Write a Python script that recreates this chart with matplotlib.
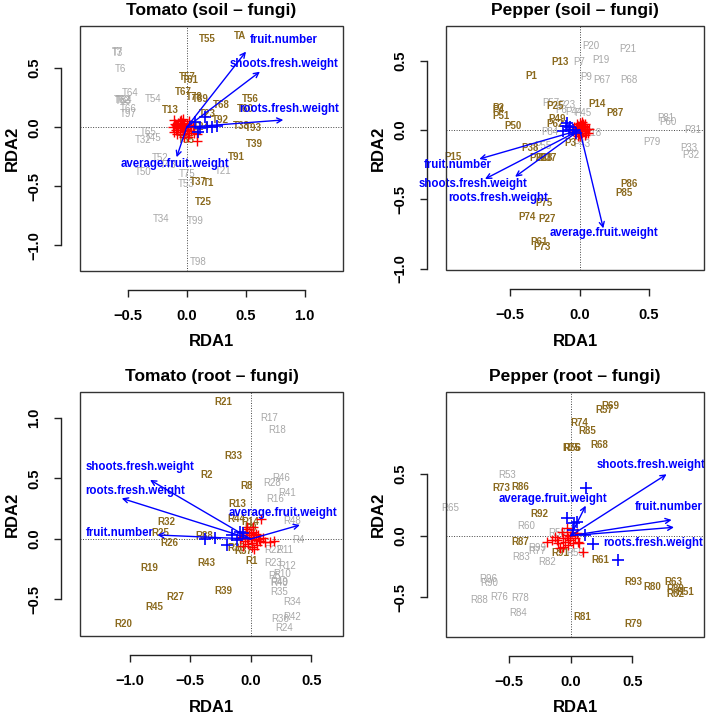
import matplotlib
matplotlib.use('Agg')
import matplotlib.pyplot as plt
from matplotlib.patches import Rectangle

plt.rcParams['font.family'] = ['Liberation Sans', 'DejaVu Sans']
plt.rcParams['axes.unicode_minus'] = True

W, H = 709, 716
BROWN = '#8B6A1E'
GREY = '#A8A8A8'
BLUE = '#0000FF'
RED = '#FF0000'

ARROW_NAMES = ['fruit.number', 'shoots.fresh.weight', 'roots.fresh.weight', 'average.fruit.weight']

# ---------------- Tomato (soil - fungi) ----------------
tl_title = 'Tomato (soil – fungi)'
tl_names = ['T55', 'TA', 'T57', 'T61', 'T67', 'T78', 'T89', 'T68', 'T56', 'T60', 'T13', 'T23', 'T92',
            'T38', 'T93', 'T24', 'T35', 'T39', 'T91', 'T37', 'T1', 'T25',
            'T3', 'T7', 'T6', 'T64', 'T62', 'T63', 'T84', 'T54', 'T66', 'T97', 'T65', 'T32', 'T45',
            'T52', 'T43', 'T50', 'T21', 'T75', 'T53', 'T34', 'T99', 'T98']
tl_x = [0.178, 0.452, 0.005, 0.028, -0.029, 0.064, 0.113, 0.297, 0.536, 0.494, -0.142, 0.175, 0.288,
        0.46, 0.564, 0.127, -0.006, 0.57, 0.424, 0.098, 0.183, 0.141,
        -0.585, -0.59, -0.565, -0.475, -0.547, -0.54, -0.53, -0.283, -0.495, -0.495, -0.325, -0.368, -0.288,
        -0.226, -0.156, -0.368, 0.31, 0.005, -0.006, -0.22, 0.076, 0.098]
tl_y = [0.748, 0.776, 0.424, 0.40, 0.297, 0.254, 0.237, 0.186, 0.24, 0.153, 0.147, 0.11, 0.062,
        0.011, -0.008, 0.005, -0.108, -0.144, -0.249, -0.466, -0.475, -0.633,
        0.625, 0.64, 0.49, 0.293, 0.229, 0.222, 0.235, 0.24, 0.158, 0.11, -0.042, -0.108, -0.093,
        -0.258, -0.32, -0.376, -0.368, -0.40, -0.483, -0.777, -0.797, -1.139]
tl_group = ['b'] * 22 + ['g'] * 22
tl_arrow_x = [0.503, 0.621, 0.819, -0.085]
tl_arrow_y = [0.641, 0.471, 0.062, -0.254]
tl_lab_x = [0.825, 0.823, 0.87, -0.099]
tl_lab_y = [0.74, 0.536, 0.155, -0.311]
tl_blue_x = [0.07, 0.155, 0.113, 0.212, 0.254, 0.17, 0.098]
tl_blue_y = [0.047, 0.09, -0.006, 0.005, 0.011, 0.005, -0.037]
tl_red_x = [-0.12, -0.1, -0.09, -0.08, -0.07, -0.06, -0.05, -0.05, -0.04, -0.03,
            -0.03, -0.02, -0.01, 0.0, 0.01, 0.02, 0.03, -0.11, -0.08, -0.06,
            -0.04, -0.02, 0.0, 0.02, 0.04, -0.07, -0.03, 0.01, 0.05, 0.09,
            0.085, -0.105, -0.09, 0.06]
tl_red_y = [0.0, 0.03, -0.02, 0.01, 0.04, -0.04, 0.0, 0.06, -0.01, 0.02,
            -0.06, 0.01, -0.03, 0.03, 0.0, -0.05, 0.02, -0.04, -0.06, 0.05,
            0.04, -0.08, -0.02, 0.05, -0.03, -0.01, 0.07, -0.08, 0.01, -0.12,
            -0.06, 0.065, 0.02, -0.05]
tl_xlim = (-0.904, 1.325)
tl_ylim = (-1.218, 0.858)
tl_xticks = [-0.5, 0.0, 0.5, 1.0]
tl_yticks = [-1.0, -0.5, 0.0, 0.5]

# ---------------- Pepper (soil - fungi) ----------------
tr_title = 'Pepper (soil – fungi)'
tr_names = ['P13', 'P1', 'P2', 'P4', 'P51', 'P50', 'P25', 'P14', 'P87', 'P49', 'P62', 'P3', 'P38',
            'P26', 'P37', 'P28', 'P15', 'P86', 'P85', 'P75', 'P74', 'P27', 'P61', 'P73',
            'P20', 'P21', 'P7', 'P19', 'P9', 'P67', 'P68', 'P57', 'P23', 'P6', 'P44', 'P45',
            'P84', 'P18', 'P81', 'P60', 'P31', 'P79', 'P33', 'P32', 'P43', 'P55']
tr_x = [-0.142, -0.351, -0.584, -0.584, -0.57, -0.479, -0.178, 0.127, 0.255, -0.166, -0.178, -0.07, -0.358,
        -0.298, -0.226, -0.26, -0.911, 0.358, 0.322, -0.257, -0.382, -0.234, -0.293, -0.274,
        0.079, 0.35, -0.003, 0.151, 0.05, 0.159, 0.355, -0.207, -0.094, -0.13, -0.046, 0.022,
        -0.214, 0.098, 0.62, 0.632, 0.815, 0.519, 0.783, 0.8, 0.014, -0.267]
tr_y = [0.488, 0.391, 0.161, 0.144, 0.101, 0.029, 0.175, 0.187, 0.12, 0.081, 0.043, -0.091, -0.132,
        -0.2, -0.2, -0.2, -0.192, -0.387, -0.452, -0.524, -0.627, -0.644, -0.81, -0.846,
        0.608, 0.582, 0.488, 0.505, 0.38, 0.358, 0.36, 0.197, 0.18, 0.144, 0.132, 0.125,
        -0.012, -0.024, 0.084, 0.06, 0.0, -0.084, -0.132, -0.18, -0.103, -0.115]
tr_group = ['b'] * 24 + ['g'] * 22
tr_arrow_x = [-0.724, -0.683, -0.466, 0.17]
tr_arrow_y = [-0.209, -0.353, -0.337, -0.709]
tr_lab_x = [-0.882, -0.767, -0.587, 0.177]
tr_lab_y = [-0.252, -0.387, -0.492, -0.745]
tr_blue_x = [-0.1, -0.08, -0.05, -0.12, -0.03, -0.07, -0.09]
tr_blue_y = [0.03, 0.0, 0.0, -0.01, -0.02, 0.02, 0.05]
tr_red_x = [-0.04, -0.03, -0.02, -0.01, 0.0, 0.01, 0.02, 0.03, 0.04, 0.05,
            -0.035, -0.015, 0.005, 0.025, 0.045, -0.025, 0.0, 0.02, 0.035, -0.01,
            0.015, 0.03, 0.06, 0.07, -0.045, 0.01, -0.005, 0.04]
tr_red_y = [0.02, -0.01, 0.04, 0.0, 0.05, 0.02, -0.02, 0.03, 0.0, 0.01,
            -0.03, 0.03, -0.04, 0.045, -0.02, 0.01, 0.015, 0.06, -0.035, -0.045,
            -0.01, 0.02, -0.02, 0.005, 0.0, 0.035, -0.025, 0.04]
tr_xlim = (-0.964, 0.896)
tr_ylim = (-1.009, 0.75)
tr_xticks = [-0.5, 0.0, 0.5]
tr_yticks = [-1.0, -0.5, 0.0, 0.5]

# ---------------- Tomato (root - fungi) ----------------
bl_title = 'Tomato (root – fungi)'
bl_names = ['R21', 'R33', 'R2', 'R8', 'R13', 'R44', 'R14', 'R9', 'R32', 'R25', 'R26', 'R88', 'R37',
            'R30', 'R1', 'R43', 'R19', 'R39', 'R27', 'R45', 'R20',
            'R17', 'R18', 'R46', 'R28', 'R41', 'R16', 'R48', 'R4', 'R22', 'R11', 'R23', 'R12',
            'R10', 'R5', 'R49', 'R40', 'R35', 'R34', 'R36', 'R42', 'R24']
bl_x = [-0.226, -0.144, -0.364, -0.033, -0.111, -0.121, -0.006, 0.003, -0.70, -0.75, -0.673, -0.386, -0.061,
        -0.116, 0.008, -0.364, -0.838, -0.226, -0.626, -0.799, -1.053,
        0.151, 0.215, 0.256, 0.174, 0.298, 0.2, 0.339, 0.393, 0.187, 0.283, 0.182, 0.298,
        0.256, 0.2, 0.234, 0.234, 0.234, 0.339, 0.242, 0.339, 0.275]
bl_y = [1.135, 0.689, 0.531, 0.438, 0.289, 0.163, 0.138, 0.088, 0.143, 0.052, -0.036, 0.027, -0.099,
        -0.077, -0.179, -0.201, -0.24, -0.427, -0.477, -0.559, -0.705,
        1.003, 0.901, 0.501, 0.46, 0.378, 0.33, 0.151, -0.008, -0.091, -0.091, -0.196, -0.223,
        -0.289, -0.31, -0.353, -0.36, -0.441, -0.523, -0.664, -0.647, -0.733]
bl_group = ['b'] * 21 + ['g'] * 21
bl_arrow_x = [-0.772, -0.832, -1.066, 0.407]
bl_arrow_y = [0.033, 0.488, 0.336, 0.116]
bl_lab_x = [-1.08, -0.911, -0.956, 0.27]
bl_lab_y = [0.047, 0.593, 0.40, 0.217]
bl_blue_x = [-0.378, -0.295, -0.198, -0.157, -0.088, -0.116, -0.06]
bl_blue_y = [-0.003, 0.011, -0.05, 0.033, 0.06, -0.008, 0.05]
bl_red_x = [-0.09, -0.07, -0.05, -0.04, -0.03, -0.02, -0.01, 0.0, 0.01, 0.02,
            0.03, 0.04, 0.05, 0.06, 0.07, -0.06, -0.03, 0.0, 0.02, 0.04,
            0.08, 0.118, 0.16, 0.195, 0.083, -0.033, 0.01, -0.08, 0.1, 0.03]
bl_red_y = [0.0, 0.03, -0.02, 0.05, 0.01, -0.04, 0.03, 0.0, -0.03, 0.06,
            0.02, -0.01, -0.05, 0.03, 0.0, -0.06, 0.08, 0.05, 0.1, 0.04,
            -0.02, -0.027, -0.022, -0.017, 0.165, 0.1, -0.07, 0.02, 0.01, -0.08]
bl_xlim = (-1.411, 0.763)
bl_ylim = (-0.802, 1.215)
bl_xticks = [-1.0, -0.5, 0.0, 0.5]
bl_yticks = [-0.5, 0.0, 0.5, 1.0]

# ---------------- Pepper (root - fungi) ----------------
br_title = 'Pepper (root – fungi)'
br_names = ['R69', 'R57', 'R74', 'R85', 'R75', 'R56', 'R68', 'R73', 'R86', 'R92', 'R87', 'R91', 'R61',
            'R81', 'R79', 'R93', 'R80', 'R63', 'R89', 'R51', 'R62',
            'R53', 'R65', 'R60', 'R99', 'R77', 'R83', 'R82', 'R59', 'R58', 'R96', 'R90', 'R88',
            'R76', 'R78', 'R84']
br_x = [0.319, 0.273, 0.07, 0.135, 0.008, 0.016, 0.233, -0.561, -0.412, -0.258, -0.407, -0.087, 0.238,
        0.098, 0.509, 0.509, 0.664, 0.834, 0.848, 0.929, 0.848,
        -0.515, -0.981, -0.363, -0.272, -0.272, -0.404, -0.19, 0.035, -0.114, -0.67, -0.662, -0.746,
        -0.58, -0.412, -0.426]
br_y = [1.051, 1.022, 0.914, 0.854, 0.715, 0.715, 0.737, 0.39, 0.393, 0.174, -0.049, -0.143, -0.2,
        -0.659, -0.72, -0.379, -0.415, -0.374, -0.433, -0.455, -0.476,
        0.493, 0.228, 0.079, -0.098, -0.122, -0.171, -0.211, -0.138, 0.02, -0.354, -0.382, -0.523,
        -0.496, -0.509, -0.626]
br_group = ['b'] * 21 + ['g'] * 15
br_arrow_x = [0.821, 0.78, 0.84, 0.122]
br_arrow_y = [0.128, 0.499, 0.068, 0.244]
br_lab_x = [0.794, 0.653, 0.672, -0.146]
br_lab_y = [0.236, 0.575, -0.062, 0.298]
br_blue_x = [0.122, -0.033, 0.027, 0.054, 0.116, 0.184, 0.387, 0.021]
br_blue_y = [0.385, 0.146, 0.1, 0.109, 0.006, -0.07, -0.198, 0.046]
br_red_x = [-0.195, -0.154, -0.128, -0.101, -0.073, -0.06, -0.033, -0.02, -0.006, 0.021,
            0.035, 0.062, -0.06, -0.087, 0.102, 0.07, 0.008, -0.033, 0.049, -0.047,
            -0.02, -0.114, -0.006]
br_red_y = [-0.049, -0.035, -0.008, -0.062, 0.033, -0.021, 0.006, -0.076, -0.035, -0.062,
            -0.021, -0.049, -0.089, -0.102, -0.13, -0.062, 0.033, 0.06, 0.02, -0.049,
            -0.021, -0.035, 0.0]
br_xlim = (-1.014, 1.084)
br_ylim = (-0.824, 1.168)
br_xticks = [-0.5, 0.0, 0.5]
br_yticks = [-0.5, 0.0, 0.5]

fig = plt.figure(figsize=(W / 100, H / 100), dpi=100)


def fx(px):
    return px / W


def fy(py):
    return 1 - py / H


def panel(box, title, names, xs, ys, groups, ax_x, ax_y, lab_x, lab_y,
          blue_x, blue_y, red_x, red_y, xlim, ylim, xticks, yticks):
    x0, y0, x1, y1 = box
    ax = fig.add_axes([fx(x0), fy(y1), (x1 - x0) / W, (y1 - y0) / H])
    ax.set_xlim(*xlim)
    ax.set_ylim(*ylim)
    ax.patch.set_alpha(0)
    for s in ['top', 'right']:
        ax.spines[s].set_visible(False)
    for s in ['left', 'bottom']:
        ax.spines[s].set_position(('outward', 13.7))
        ax.spines[s].set_linewidth(1.0)
        ax.spines[s].set_color('#222222')
    ax.spines['bottom'].set_bounds(xticks[0], xticks[-1])
    ax.spines['left'].set_bounds(yticks[0], yticks[-1])
    ax.set_xticks(xticks)
    ax.set_yticks(yticks)
    ax.set_xticklabels([f'{t:.1f}'.replace('-', '\u2212') for t in xticks])
    ax.set_yticklabels([f'{t:.1f}'.replace('-', '\u2212') for t in yticks],
                       rotation=90, va='center')
    ax.tick_params(direction='out', length=5, width=1.0, color='#222222',
                   labelsize=10.5, pad=9)
    for lab in ax.get_xticklabels() + ax.get_yticklabels():
        lab.set_fontweight('bold')
    ax.add_patch(Rectangle((0, 0), 1, 1, transform=ax.transAxes, fill=False,
                           lw=1.0, edgecolor='#333333', clip_on=False, zorder=10))
    ax.axhline(0, color='#444444', lw=0.7, ls=(0, (1, 1.6)), zorder=1)
    ax.axvline(0, color='#444444', lw=0.7, ls=(0, (1, 1.6)), zorder=1)
    # site labels: grey first, then brown
    for n, x, y, g in zip(names, xs, ys, groups):
        if g == 'g':
            ax.text(x, y, n, color=GREY, fontsize=7, ha='center', va='center', zorder=2)
    for n, x, y, g in zip(names, xs, ys, groups):
        if g == 'b':
            ax.text(x, y, n, color=BROWN, fontsize=7, fontweight='bold',
                    ha='center', va='center', zorder=3)
    ax.plot(red_x, red_y, ls='none', marker='+', color=RED, ms=6.5, mew=1.0, zorder=4)
    ax.plot(blue_x, blue_y, ls='none', marker='+', color=BLUE, ms=9, mew=1.2, zorder=5)
    for n, tx, ty, lx, ly in zip(ARROW_NAMES, ax_x, ax_y, lab_x, lab_y):
        ax.annotate('', xy=(tx, ty), xytext=(0, 0),
                    arrowprops=dict(arrowstyle='->', color=BLUE, lw=1.0,
                                    mutation_scale=9, shrinkA=0, shrinkB=0),
                    zorder=6)
        ax.text(lx, ly, n, color=BLUE, fontsize=8.3, fontweight='bold',
                ha='center', va='center', zorder=7, clip_on=False)
    cx = (x0 + x1) / 2
    fig.text(fx(cx), fy(y0 - 16), title, ha='center', va='center',
             fontsize=12.5, fontweight='bold')
    fig.text(fx(cx), fy(y1 + 71), 'RDA1', ha='center', va='center',
             fontsize=12, fontweight='bold')
    fig.text(fx(x0 - 68), fy((y0 + y1) / 2), 'RDA2', ha='center', va='center',
             fontsize=12, fontweight='bold', rotation=90)
    return ax


panel((80, 26, 343, 271), tl_title, tl_names, tl_x, tl_y, tl_group,
      tl_arrow_x, tl_arrow_y, tl_lab_x, tl_lab_y, tl_blue_x, tl_blue_y,
      tl_red_x, tl_red_y, tl_xlim, tl_ylim, tl_xticks, tl_yticks)
panel((446, 26, 704, 270), tr_title, tr_names, tr_x, tr_y, tr_group,
      tr_arrow_x, tr_arrow_y, tr_lab_x, tr_lab_y, tr_blue_x, tr_blue_y,
      tr_red_x, tr_red_y, tr_xlim, tr_ylim, tr_xticks, tr_yticks)
panel((80, 392, 343, 636), bl_title, bl_names, bl_x, bl_y, bl_group,
      bl_arrow_x, bl_arrow_y, bl_lab_x, bl_lab_y, bl_blue_x, bl_blue_y,
      bl_red_x, bl_red_y, bl_xlim, bl_ylim, bl_xticks, bl_yticks)
panel((446, 392, 704, 637), br_title, br_names, br_x, br_y, br_group,
      br_arrow_x, br_arrow_y, br_lab_x, br_lab_y, br_blue_x, br_blue_y,
      br_red_x, br_red_y, br_xlim, br_ylim, br_xticks, br_yticks)

fig.savefig('out.png', dpi=100)
